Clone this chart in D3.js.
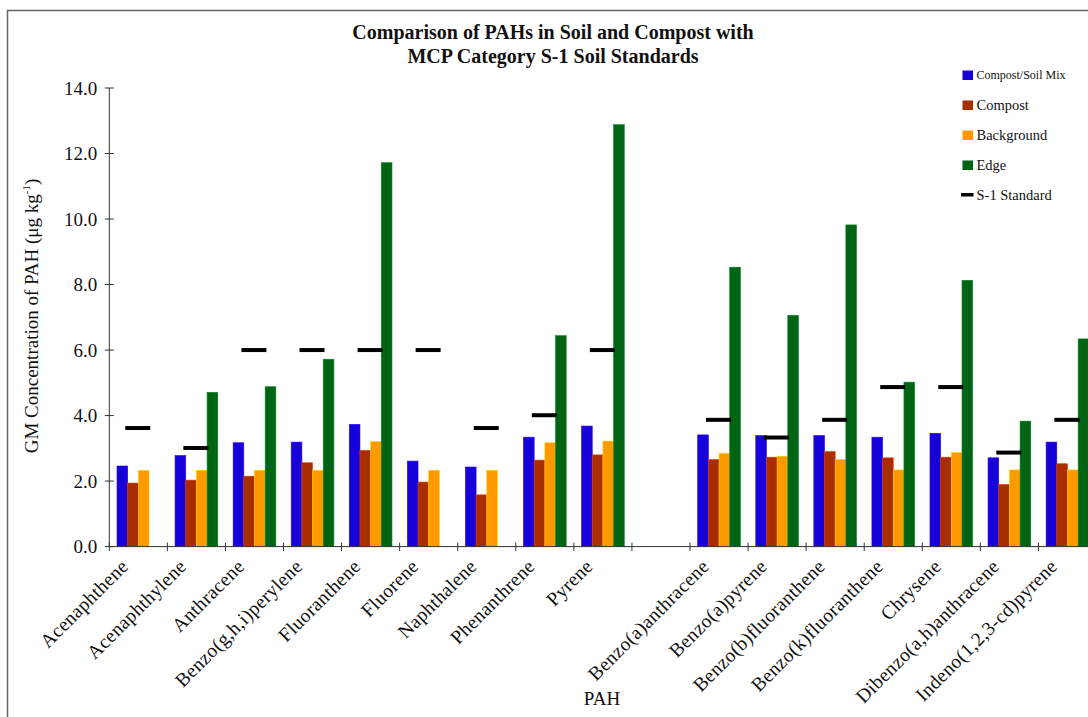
<!DOCTYPE html>
<html>
<head>
<meta charset="utf-8">
<script src="https://cdn.jsdelivr.net/npm/d3@7"></script>
<style>
  html, body { margin: 0; padding: 0; background: #fff; }
  svg { display: block; }
  text { font-family: "Liberation Serif", "DejaVu Serif", serif; fill: #111; }
</style>
</head>
<body>
<svg id="chart" width="1088" height="717"></svg>
<script>
const categories = ["Acenaphthene","Acenaphthylene","Anthracene","Benzo(g,h,i)perylene","Fluoranthene","Fluorene","Naphthalene","Phenanthrene","Pyrene"," ","Benzo(a)anthracene","Benzo(a)pyrene","Benzo(b)fluoranthene","Benzo(k)fluoranthene","Chrysene","Dibenzo(a,h)anthracene","Indeno(1,2,3-cd)pyrene"];
const compostSoilMix = [2.46, 2.78, 3.17, 3.19, 3.73, 2.61, 2.43, 3.34, 3.68, null, 3.41, 3.39, 3.39, 3.34, 3.46, 2.71, 3.19];
const compost        = [1.94, 2.03, 2.15, 2.56, 2.94, 1.97, 1.58, 2.64, 2.80, null, 2.66, 2.73, 2.90, 2.71, 2.73, 1.90, 2.53];
const background     = [2.33, 2.33, 2.33, 2.33, 3.21, 2.33, 2.33, 3.17, 3.22, null, 2.85, 2.76, 2.66, 2.34, 2.87, 2.34, 2.34];
const edge           = [null, 4.71, 4.88, 5.72, 11.72, null, null, 6.44, 12.88, null, 8.53, 7.06, 9.82, 5.02, 8.13, 3.83, 6.34];
const s1Standard     = [3.62, 3.01, 6.0, 6.0, 6.0, 6.0, 3.62, 4.01, 6.0, null, 3.87, 3.33, 3.87, 4.87, 4.87, 2.87, 3.87];
const seriesNames = ["Compost/Soil Mix", "Compost", "Background", "Edge"];
const standardName = "S-1 Standard";
const yTicks = [0, 2, 4, 6, 8, 10, 12, 14];
const titleLines = ["Comparison of PAHs in Soil and Compost with", "MCP Category S-1 Soil Standards"];

const colors = ["#1800d8", "#a82e00", "#ff9900", "#006414"];
const seriesValues = [compostSoilMix, compost, background, edge];

const svg = d3.select("#chart");

// frame
svg.append("rect").attr("x", 7.5).attr("y", 10.5).attr("width", 1200).attr("height", 800)
  .attr("fill", "none").attr("stroke", "#666").attr("stroke-width", 1.5);

const x = d3.scaleBand().domain(categories).range([109.3, 109.3 + 58.07 * categories.length]).padding(0);
const slot = x.bandwidth();
const xs = d3.scaleBand().domain(seriesNames).range([7.7, 50.4]).padding(0);
const y = d3.scaleLinear().domain([0, 14]).range([546.6, 88]);

// bars
seriesNames.forEach((name, si) => {
  const vals = seriesValues[si];
  svg.append("g").selectAll("rect")
    .data(categories.map((c, i) => ({c, v: vals[i]})).filter(d => d.v != null))
    .join("rect")
    .attr("x", d => x(d.c) + xs(name))
    .attr("y", d => y(d.v))
    .attr("width", xs.bandwidth())
    .attr("height", d => y(0) - y(d.v))
    .attr("fill", colors[si])
    .attr("stroke", d3.color(colors[si]).brighter(0.9))
    .attr("stroke-width", 0.6);
});

// standards
svg.append("g").selectAll("rect")
  .data(categories.map((c, i) => ({c, v: s1Standard[i]})).filter(d => d.v != null))
  .join("rect")
  .attr("x", d => x(d.c) + 16)
  .attr("y", d => y(d.v) - 2)
  .attr("width", 25)
  .attr("height", 4)
  .attr("fill", "#000");

// y axis
const yAxis = svg.append("g").attr("transform", `translate(${x.range()[0]},0)`);
yAxis.append("line").attr("x1", 0).attr("x2", 0).attr("y1", y(0)).attr("y2", y(14))
  .attr("stroke", "#333").attr("stroke-width", 1);
yAxis.selectAll("line.tick").data(yTicks).join("line").attr("class", "tick")
  .attr("x1", -4.5).attr("x2", 4.5).attr("y1", d => y(d)).attr("y2", d => y(d))
  .attr("stroke", "#333").attr("stroke-width", 1);
yAxis.selectAll("text").data(yTicks).join("text")
  .attr("x", -12).attr("y", d => y(d)).attr("dy", "0.35em")
  .attr("text-anchor", "end").attr("font-size", 19)
  .text(d => d3.format(".1f")(d));

// x axis
const xAxis = svg.append("g");
xAxis.append("line").attr("x1", x.range()[0]).attr("x2", x.range()[1]).attr("y1", y(0)).attr("y2", y(0))
  .attr("stroke", "#333").attr("stroke-width", 1);
const boundaries = d3.range(categories.length + 1).map(i => x.range()[0] + i * slot);
xAxis.selectAll("line.tick").data(boundaries).join("line").attr("class", "tick")
  .attr("x1", d => d).attr("x2", d => d).attr("y1", y(0) - 4).attr("y2", y(0) + 4.5)
  .attr("stroke", "#333").attr("stroke-width", 1);
xAxis.selectAll("text").data(categories.filter(c => c.trim() !== "")).join("text")
  .attr("transform", d => `translate(${x(d) + slot / 2 - 9},${y(0) + 21}) rotate(-45)`)
  .attr("text-anchor", "end").attr("font-size", 19.5).attr("letter-spacing", 0.3)
  .text(d => d);

// axis titles
svg.append("text").attr("x", 602).attr("y", 705).attr("text-anchor", "middle")
  .attr("font-size", 19).text("PAH");
const yt = svg.append("text").attr("transform", "translate(38,316) rotate(-90)")
  .attr("text-anchor", "middle").attr("font-size", 19);
yt.append("tspan").text("GM Concentration of PAH (μg kg");
yt.append("tspan").attr("font-size", 11).attr("dy", -8).text("-1");
yt.append("tspan").attr("dy", 8).text(")");

// title
svg.append("g").selectAll("text").data(titleLines).join("text")
  .attr("x", 553).attr("y", (d, i) => 39 + i * 24)
  .attr("text-anchor", "middle").attr("font-size", 20).attr("font-weight", "bold")
  .text(d => d);

// legend
const legendY = [75, 105, 135, 165];
const lg = svg.append("g");
seriesNames.forEach((name, i) => {
  lg.append("rect").attr("x", 962.5).attr("y", legendY[i] - 4.5).attr("width", 10.5).attr("height", 9.5)
    .attr("fill", colors[i]);
  lg.append("text").attr("x", 976.5).attr("y", legendY[i]).attr("dy", "0.35em")
    .attr("font-size", i === 0 ? 12 : 14.5).text(name);
});
lg.append("rect").attr("x", 961).attr("y", 193).attr("width", 12.5).attr("height", 3.5).attr("fill", "#000");
lg.append("text").attr("x", 976.5).attr("y", 195).attr("dy", "0.35em").attr("font-size", 14.5).text(standardName);
</script>
</body>
</html>
